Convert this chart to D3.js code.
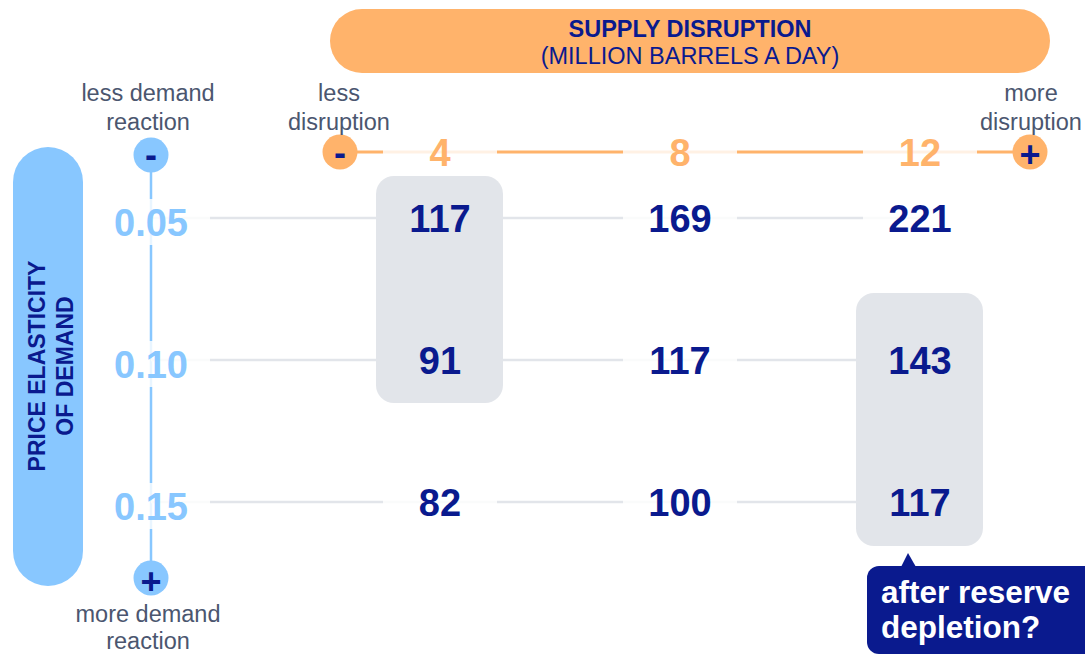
<!DOCTYPE html>
<html><head><meta charset="utf-8">
<script src="https://cdn.jsdelivr.net/npm/d3@7"></script>
<style>
html,body{margin:0;padding:0;background:#fff;}
svg{display:block;font-family:"Liberation Sans",Arial,Helvetica,sans-serif;}
</style></head>
<body>
<svg id="chart" width="1085" height="656"></svg>
<script>
// ---- data ----
const columns = [4, 8, 12];                 // supply disruption (million barrels a day)
const rowLabels = ["0.05", "0.10", "0.15"]; // price elasticity of demand
const rowE005 = [117, 169, 221];
const rowE010 = [91, 117, 143];
const rowE015 = [82, 100, 117];
const highlights = [
  {col: 4, from: "0.05", to: "0.10"},
  {col: 12, from: "0.10", to: "0.15"}
];
const titleLines = ["SUPPLY DISRUPTION", "(MILLION BARRELS A DAY)"];
const yTitleLines = ["PRICE ELASTICITY", "OF DEMAND"];
const calloutLines = ["after reserve", "depletion?"];

const values = [rowE005, rowE010, rowE015];
const cells = [];
rowLabels.forEach((r, i) => columns.forEach((c, j) => cells.push({row: r, col: c, v: values[i][j]})));

// ---- style ----
const NAVY = "#0a1a8e", BLUE = "#88c7ff", ORANGE = "#ffb36b", GRAY = "#e2e5ea", SLATE = "#4b566f";

const svg = d3.select("#chart");
const x = d3.scaleLinear().domain([4, 12]).range([440, 920]);
const y = d3.scalePoint().domain(rowLabels).range([218, 502]);
const axisX = 151, headerY = 152;
const xMinus = x(4) - 100, xPlus = x(12) + 110;
const yMinus = 155, yPlus = 578;

// title banner
svg.append("rect").attr("x", 330).attr("y", 9).attr("width", 720).attr("height", 64)
  .attr("rx", 32).attr("fill", ORANGE);
svg.append("text").attr("x", 690).attr("y", 37).attr("text-anchor", "middle")
  .attr("font-size", 23.5).attr("font-weight", "bold").attr("fill", NAVY).text(titleLines[0]);
svg.append("text").attr("x", 690).attr("y", 64).attr("text-anchor", "middle")
  .attr("font-size", 23.5).attr("fill", NAVY).text(titleLines[1]);

// left pill
svg.append("rect").attr("x", 13).attr("y", 147).attr("width", 70).attr("height", 439)
  .attr("rx", 35).attr("fill", BLUE);
const yt = svg.append("text").attr("transform", "translate(45,366) rotate(-90)")
  .attr("text-anchor", "middle").attr("font-size", 23).attr("font-weight", "bold").attr("fill", NAVY);
yTitleLines.forEach((t, i) => yt.append("tspan").attr("x", 0).attr("y", i * 28).text(t));

// lines
svg.append("line").attr("x1", xMinus).attr("x2", xPlus).attr("y1", headerY).attr("y2", headerY)
  .attr("stroke", ORANGE).attr("stroke-width", 3);
svg.append("line").attr("x1", axisX).attr("x2", axisX).attr("y1", yMinus).attr("y2", yPlus)
  .attr("stroke", BLUE).attr("stroke-width", 2.5);
svg.append("g").selectAll("line").data(rowLabels).join("line")
  .attr("x1", axisX).attr("x2", x(12)).attr("y1", d => y(d)).attr("y2", d => y(d))
  .attr("stroke", GRAY).attr("stroke-width", 2.5);

// label backgrounds (fade lines under labels)
const fade = svg.append("g").attr("fill", "#fff").attr("fill-opacity", 0.82);
fade.selectAll("rect.cb").data(cells).join("rect").attr("class", "cb")
  .attr("x", d => x(d.col) - 57).attr("y", d => y(d.row) - 23).attr("width", 114).attr("height", 46);
fade.selectAll("rect.hb").data(columns).join("rect").attr("class", "hb")
  .attr("x", d => x(d) - 57).attr("y", headerY - 23).attr("width", 114).attr("height", 46);
fade.selectAll("rect.rb").data(rowLabels).join("rect").attr("class", "rb")
  .attr("x", axisX - 59).attr("y", d => y(d) - 19).attr("width", 118).attr("height", 46);

// highlight boxes
const padTop = [42, 67], padBot = [43, 44];
svg.append("g").selectAll("rect").data(highlights).join("rect")
  .attr("x", d => x(d.col) - 64).attr("width", 127)
  .attr("y", (d, i) => y(d.from) - padTop[i])
  .attr("height", (d, i) => y(d.to) - y(d.from) + padTop[i] + padBot[i])
  .attr("rx", 18).attr("fill", GRAY);

// end circles
function endCircle(cx, cy, fill, sign, dy) {
  svg.append("circle").attr("cx", cx).attr("cy", cy).attr("r", 17.5).attr("fill", fill);
  svg.append("text").attr("x", cx).attr("y", cy + dy).attr("text-anchor", "middle")
    .attr("font-size", 36).attr("font-weight", "bold").attr("fill", NAVY).text(sign);
}
endCircle(axisX, yMinus, BLUE, "-", 12);
endCircle(axisX, yPlus, BLUE, "+", 16);
endCircle(xMinus, headerY, ORANGE, "-", 13);
endCircle(xPlus, headerY, ORANGE, "+", 15);

// side labels
function sideLabel(cx, baseY, lines, gap) {
  const t = svg.append("text").attr("text-anchor", "middle").attr("font-size", 23.5).attr("fill", SLATE);
  lines.forEach((s, i) => t.append("tspan").attr("x", cx).attr("y", baseY + i * gap).text(s));
}
sideLabel(148, 101, ["less demand", "reaction"], 29);
sideLabel(339, 101, ["less", "disruption"], 29);
sideLabel(1031, 101, ["more", "disruption"], 29);
sideLabel(148, 622, ["more demand", "reaction"], 27);

// column headers
svg.append("g").selectAll("text").data(columns).join("text")
  .attr("x", d => x(d)).attr("y", headerY + 14).attr("text-anchor", "middle")
  .attr("font-size", 38).attr("font-weight", "bold").attr("fill", ORANGE).text(d => d);

// row labels
svg.append("g").selectAll("text").data(rowLabels).join("text")
  .attr("x", axisX).attr("y", d => y(d) + 18).attr("text-anchor", "middle")
  .attr("font-size", 38).attr("font-weight", "bold").attr("fill", BLUE).text(d => d);

// cell values
svg.append("g").selectAll("text").data(cells).join("text")
  .attr("x", d => x(d.col)).attr("y", d => y(d.row) + 14).attr("text-anchor", "middle")
  .attr("font-size", 38).attr("font-weight", "bold").attr("fill", NAVY).text(d => d.v);

// callout
const hb = highlights[1];
const bx = x(hb.col), by = y(hb.to) + padBot[1];
svg.append("path").attr("d", `M${bx - 19},${by + 21} L${bx - 12},${by + 7} L${bx - 4},${by + 21} Z`).attr("fill", NAVY);
svg.append("rect").attr("x", bx - 53).attr("y", by + 20).attr("width", 230).attr("height", 88)
  .attr("rx", 12).attr("fill", NAVY);
const ct = svg.append("text").attr("font-size", 31.5).attr("font-weight", "bold").attr("fill", "#fff");
calloutLines.forEach((s, i) => ct.append("tspan").attr("x", bx - 39).attr("y", by + 57 + i * 35).text(s));
</script>
</body></html>
